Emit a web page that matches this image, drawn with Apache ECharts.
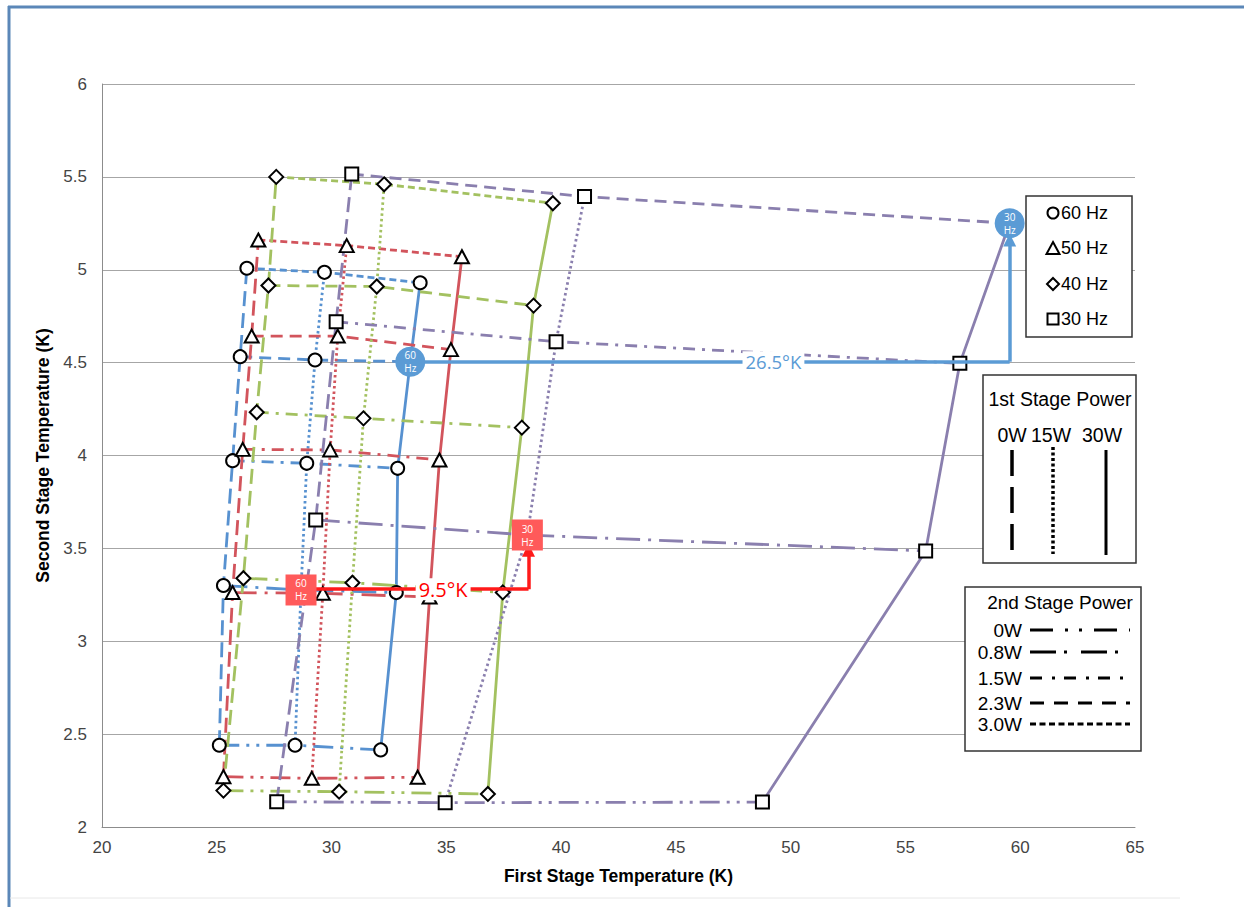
<!DOCTYPE html>
<html><head><meta charset="utf-8">
<script src="https://cdn.jsdelivr.net/npm/echarts@6/dist/echarts.min.js"></script>
<style>html,body{margin:0;padding:0;background:#fff}#c{width:1244px;height:907px}</style>
</head><body><div id="c"></div>
<script>
// ---- data ----
const xTicks = [20,25,30,35,40,45,50,55,60,65];
const yTicks = [2,2.5,3,3.5,4,4.5,5,5.5,6];
const frequencies = ['60 Hz','50 Hz','40 Hz','30 Hz'];
const firstStagePower = ['0W','15W','30W'];
const secondStagePower = ['0W','0.8W','1.5W','2.3W','3.0W'];

// rows = 2nd stage power (0W,0.8W,1.5W,2.3W,3.0W), cols = 1st stage power (0W,15W,30W)
const hz60X = [[25.11,28.41,32.14],[25.29,28.67,32.82],[25.69,28.92,32.88],[26.02,29.28,33.43],[26.31,29.69,33.86]];
const hz60Y = [[2.44,2.44,2.415],[3.30,3.276,3.262],[3.972,3.958,3.931],[4.532,4.514,4.505],[5.008,4.986,4.93]];
const hz50X = [[25.29,29.14,33.75],[25.69,29.62,34.27],[26.13,29.94,34.70],[26.52,30.27,35.20],[26.81,30.66,35.68]];
const hz50Y = [[2.271,2.262,2.268],[3.262,3.258,3.238],[4.033,4.03,3.976],[4.643,4.643,4.57],[5.16,5.13,5.07]];
const hz40X = [[25.29,30.33,36.81],[26.16,30.91,37.46],[26.74,31.39,38.29],[27.25,31.97,38.80],[27.59,32.29,39.64]];
const hz40Y = [[2.196,2.19,2.178],[3.339,3.315,3.263],[4.233,4.20,4.15],[4.915,4.91,4.807],[5.50,5.46,5.358]];
// 30 Hz only has 2nd stage power 0W,0.8W,1.5W,2.3W
const hz30X = [[27.61,34.95,48.77],[29.31,38.53,55.88],[30.20,39.78,57.37],[30.88,41.02,59.54]];
const hz30Y = [[2.136,2.131,2.134],[3.653,3.572,3.486],[4.72,4.613,4.496],[5.515,5.394,5.25]];

// annotations
const blueArrowH = [[33.43,4.505],[59.54,4.505]];
const blueArrowV = [[59.54,4.505],[59.54,5.16]];
const redArrowH = [[28.67,3.28],[38.58,3.28]];
const redArrowV = [[38.58,3.28],[38.58,3.49]];
const blueLabel = ['26.5°K', 49.25, 4.505];
const redLabel = ['9.5°K', 34.86, 3.28];

// ---- styles ----
const freqColors = ['#5791d0','#d2545c','#a3c160','#8a7fae'];
const freqSymbols = ['circle','triangle','diamond','rect'];
const secondDash = [[20,7,3,7,3,7],[24,8,3,8],[12,7,3,7],[12,7],[7,4]];
const firstDash = [[15,7],[2.5,3],'solid'];
const FONT = 'Liberation Sans, Arial, sans-serif';

const freqData = [[hz60X,hz60Y],[hz50X,hz50Y],[hz40X,hz40Y],[hz30X,hz30Y]];
const series = [];
freqData.forEach(([X,Y],fi)=>{
  X.forEach((row,i)=>{
    series.push({type:'line', name:frequencies[fi]+' '+secondStagePower[i], data:row.map((xv,j)=>[xv,Y[i][j]]),
      symbol:'none', silent:true, z:2, lineStyle:{color:freqColors[fi], width:2.8, type:secondDash[i]}});
  });
  firstStagePower.forEach((p,j)=>{
    series.push({type:'line', name:frequencies[fi]+' '+p, data:X.map((row,i)=>[row[j],Y[i][j]]),
      symbol:'none', silent:true, z:2, lineStyle:{color:freqColors[fi], width:2.8, type:firstDash[j]}});
  });
  const pts = [];
  X.forEach((row,i)=>row.forEach((xv,j)=>pts.push([xv,Y[i][j]])));
  series.push({type:'scatter', name:frequencies[fi], data:pts, symbol:freqSymbols[fi],
    symbolSize: fi===1?[14,13]:(fi===2?14:13), z:3,
    itemStyle:{color:'#fff', borderColor:'#000', borderWidth:2, opacity:1}});
});

// annotation lines
function arrowSeries(h, v, color){
  return [
    {type:'lines', coordinateSystem:'cartesian2d', z:4, silent:true, symbol:['none','none'],
      lineStyle:{color:color, width:3.5, opacity:1}, data:[{coords:h}]},
    {type:'lines', coordinateSystem:'cartesian2d', z:4, silent:true, symbol:['none','triangle'], symbolSize:[12,13],
      lineStyle:{color:color, width:3.5, opacity:1}, data:[{coords:v}]}
  ];
}
series.push(...arrowSeries(blueArrowH, blueArrowV, '#5b9bd5'));
series.push(...arrowSeries(redArrowH, redArrowV, '#ff1a1a'));

// annotation markers (on data points)
const annoStyle = {show:true, position:'inside', formatter:p=>p.data[2], color:'#fff', opacity:1, fontSize:10, lineHeight:13, fontFamily:'Open Sans, sans-serif'};
series.push({type:'scatter', z:5, silent:true, symbol:'circle', symbolSize:30,
  itemStyle:{color:'#5b9bd5', opacity:1}, label:annoStyle,
  data:[[hz60X[3][2],hz60Y[3][2],'60\nHz'],[hz30X[3][2],hz30Y[3][2],'30\nHz']]});
series.push({type:'scatter', z:5, silent:true, symbol:'rect', symbolSize:[31,31],
  itemStyle:{color:'#ff5a5a', opacity:1}, label:annoStyle,
  data:[[hz60X[1][1],hz60Y[1][1],'60\nHz'],[hz30X[1][1],hz30Y[1][1],'30\nHz']]});
// annotation text
series.push({type:'scatter', z:6, silent:true, symbol:'rect', symbolSize:1, itemStyle:{color:'#fff', opacity:1},
  label:{show:true, position:'inside', formatter:p=>p.data[2], color:'#5b9bd5', opacity:1, fontSize:18.5, backgroundColor:'#fff', padding:[1,3], fontFamily:'Open Sans, sans-serif'},
  data:[[blueLabel[1],blueLabel[2],blueLabel[0]]]});
series.push({type:'scatter', z:6, silent:true, symbol:'rect', symbolSize:1, itemStyle:{color:'#fff', opacity:1},
  label:{show:true, position:'inside', formatter:p=>p.data[2], color:'#ff0000', opacity:1, fontSize:20, backgroundColor:'#fff', padding:[1,3], fontFamily:'Open Sans, sans-serif'},
  data:[[redLabel[1],redLabel[2],redLabel[0]]]});

// ---- legends as graphic elements ----
const txt = (x,y,t,size,align)=>({type:'text', x:x, y:y, z:100, style:{text:t, fill:'#000', font:size+'px '+FONT, textAlign:align||'left', textVerticalAlign:'middle'}});
const ln = (x1,y1,x2,y2,dash,w)=>({type:'line', z:100, shape:{x1,y1,x2,y2}, style:{stroke:'#000', lineWidth:w||3, lineDash:dash||null}});
const graphic = [
  // outer frame
  {type:'line', shape:{x1:9,y1:6,x2:9,y2:907}, style:{stroke:'#5b87b8', lineWidth:3}, z:100},
  {type:'line', shape:{x1:8,y1:7,x2:1244,y2:7}, style:{stroke:'#5b87b8', lineWidth:3}, z:100},
  {type:'line', shape:{x1:10,y1:898,x2:1180,y2:898}, style:{stroke:'#e8e8e8', lineWidth:1}, z:100},
  // frequency legend
  {type:'rect', z:99, shape:{x:1026,y:196,width:106,height:141}, style:{fill:'#fff', stroke:'#333', lineWidth:1.5}},
  {type:'circle', z:100, shape:{cx:1053,cy:213,r:5.5}, style:{fill:'#fff', stroke:'#000', lineWidth:2}},
  {type:'polygon', z:100, shape:{points:[[1053,242],[1059.5,254],[1046.5,254]]}, style:{fill:'#fff', stroke:'#000', lineWidth:2}},
  {type:'polygon', z:100, shape:{points:[[1053,278],[1059,284],[1053,290],[1047,284]]}, style:{fill:'#fff', stroke:'#000', lineWidth:2}},
  {type:'rect', z:100, shape:{x:1047.5,y:313.5,width:11,height:11}, style:{fill:'#fff', stroke:'#000', lineWidth:2}},
  txt(1061,213,frequencies[0],18), txt(1061,248,frequencies[1],18), txt(1061,284,frequencies[2],18), txt(1061,319,frequencies[3],18),
  // 1st stage power legend
  {type:'rect', z:99, shape:{x:983,y:375,width:153,height:188}, style:{fill:'#fff', stroke:'#333', lineWidth:1.5}},
  txt(1060,399,'1st Stage Power',19.5,'center'),
  txt(1012,435,firstStagePower[0],19.5,'center'), txt(1051,435,firstStagePower[1],19.5,'center'), txt(1102,435,firstStagePower[2],19.5,'center'),
  ln(1012,450,1012,553,[26,11],3.5), ln(1053,447,1053,554,[3,2.5],3.5), ln(1106,450,1106,555,null,3),
  // 2nd stage power legend
  {type:'rect', z:99, shape:{x:965,y:587,width:176,height:164}, style:{fill:'#fff', stroke:'#333', lineWidth:1.5}},
  txt(1060,602,'2nd Stage Power',19,'center'),
  txt(1022,630,secondStagePower[0],19,'right'), txt(1022,652,secondStagePower[1],19,'right'), txt(1022,678,secondStagePower[2],19,'right'),
  txt(1022,703,secondStagePower[3],19,'right'), txt(1022,724,secondStagePower[4],19,'right'),
  ln(1030,630,1130,630,[23,12,3,11,3,12],3), ln(1030,652,1130,652,[26,8,3,14],3), ln(1030,678,1130,678,[12,10,3,9],3),
  ln(1030,703,1130,703,[14,10],3), ln(1030,724,1130,724,[6,3.5],3)
];

const chart = echarts.init(document.getElementById('c'), null, {renderer:'svg'});
chart.setOption({
  animation:false,
  backgroundColor:'#fff',
  grid:{left:102, top:84, right:109, bottom:80, containLabel:false},
  xAxis:{type:'value', min:xTicks[0], max:xTicks[xTicks.length-1], interval:xTicks[1]-xTicks[0],
    name:'First Stage Temperature (K)', nameLocation:'middle', nameGap:40,
    nameTextStyle:{fontWeight:'bold', fontSize:17.5, color:'#000', fontFamily:FONT},
    axisLine:{show:true, lineStyle:{color:'#8c8c8c', width:1}}, axisTick:{show:false},
    axisLabel:{color:'#444', fontSize:17, margin:12, fontFamily:FONT},
    splitLine:{show:false}},
  yAxis:{type:'value', min:yTicks[0], max:yTicks[yTicks.length-1], interval:yTicks[1]-yTicks[0],
    name:'Second Stage Temperature (K)', nameLocation:'middle', nameGap:48,
    nameTextStyle:{fontWeight:'bold', fontSize:17.5, color:'#000', fontFamily:FONT},
    axisLine:{show:true, lineStyle:{color:'#8c8c8c', width:1}}, axisTick:{show:false},
    axisLabel:{color:'#444', fontSize:17, margin:15, fontFamily:FONT},
    splitLine:{show:true, lineStyle:{color:'#a6a6a6', width:1}}},
  series:series,
  graphic:graphic
});
</script></body></html>
